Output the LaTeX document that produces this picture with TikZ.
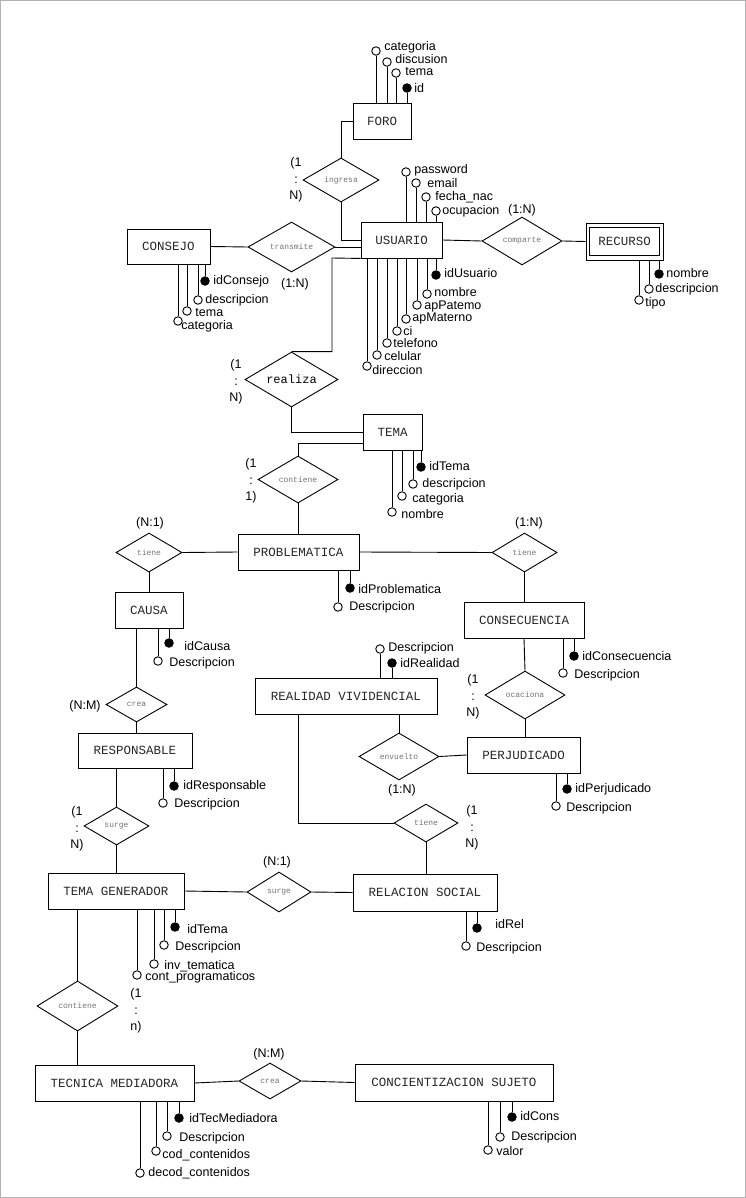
\documentclass[tikz,border=0pt]{standalone}
\usepackage{fontspec}
\setmainfont{Liberation Sans}
\newfontfamily\monof{Liberation Mono}
\usetikzlibrary{shapes.geometric}
\newcommand{\entfont}{\monof\fontsize{12.5}{14}\selectfont}
\newcommand{\relfont}{\monof\fontsize{8}{9}\selectfont}
\newcommand{\attfont}{\fontsize{12.5}{14}\selectfont}
\newcommand{\cardfont}{\fontsize{12.5}{16.5}\selectfont}
% attribute below an entity
\newcommand{\myatB}[8]{%
  \node[#5] (#1) at (#2,#3) {};
  \draw (#1.north) -- (#1.north |- #4.south);
  \node[albl] (#1l) at (#6,#7) {#8};}
% attribute above an entity
\newcommand{\myatT}[8]{%
  \node[#5] (#1) at (#2,#3) {};
  \draw (#1.south) -- (#1.south |- #4.north);
  \node[albl] (#1l) at (#6,#7) {#8};}
\begin{document}
\begin{tikzpicture}[x=1pt,y=-1pt,line width=0.9pt,
  ent/.style={draw, rectangle, inner sep=0pt, font=\entfont, text=black!85},
  rel/.style={draw, diamond, aspect=2, inner sep=0pt, font=\relfont, text=black!55},
  att/.style={draw, circle, fill=white, minimum size=8.5pt, inner sep=0pt},
  key/.style={att, fill=black},
  albl/.style={anchor=west, inner sep=0pt, font=\attfont},
  card/.style={font=\cardfont, align=center, inner sep=0pt}]
\useasboundingbox (0,0) rectangle (746,1198);
\draw[gray!60, line width=0.8pt] (0.5,0.5) rectangle (745.5,1197.5);

% ---------------- entities
\node[ent, minimum width=58pt, minimum height=36pt] (FORO) at (382,121) {FORO};
\node[ent, minimum width=81pt, minimum height=36pt] (USUARIO) at (401.5,240) {USUARIO};
\node[ent, minimum width=83pt, minimum height=35pt] (CONSEJO) at (168.5,246.5) {CONSEJO};
\node[ent, minimum width=77pt, minimum height=37pt] (RECURSO) at (624.5,241.5) {RECURSO};
\draw ([shift={(4pt,5pt)}]RECURSO.south west) rectangle ([shift={(-4pt,-5pt)}]RECURSO.north east);
\node[ent, minimum width=59pt, minimum height=36pt] (TEMA) at (392.5,432) {TEMA};
\node[ent, minimum width=121pt, minimum height=36pt] (PROB) at (298.5,552) {PROBLEMATICA};
\node[ent, minimum width=68pt, minimum height=36pt] (CAUSA) at (149,610) {CAUSA};
\node[ent, minimum width=120pt, minimum height=36pt] (CONS) at (524,620) {CONSECUENCIA};
\node[ent, minimum width=182pt, minimum height=36pt] (REAL) at (346,696) {REALIDAD VIVIDENCIAL};
\node[ent, minimum width=113pt, minimum height=36pt] (PERJ) at (523.5,755) {PERJUDICADO};
\node[ent, minimum width=114pt, minimum height=35pt] (RESP) at (135,750.5) {RESPONSABLE};
\node[ent, minimum width=136pt, minimum height=36pt] (TG) at (116,891) {TEMA GENERADOR};
\node[ent, minimum width=144pt, minimum height=37pt] (RS) at (425,892.5) {RELACION SOCIAL};
\node[ent, minimum width=159pt, minimum height=36pt] (TM) at (114.5,1083) {TECNICA MEDIADORA};
\node[ent, minimum width=198pt, minimum height=37pt] (CS) at (454,1082.5) {CONCIENTIZACION SUJETO};

% ---------------- relationships
\node[rel, minimum width=76pt, minimum height=44pt] (ingresa) at (341,180) {ingresa};
\node[rel, minimum width=87pt, minimum height=50pt] (transmite) at (291.5,247) {transmite};
\node[rel, minimum width=80pt, minimum height=48pt] (comparte) at (522,241) {comparte};
\node[rel, minimum width=93pt, minimum height=55pt, font=\monof\fontsize{12}{13}\selectfont, text=black] (realiza) at (291.5,379.5) {realiza};
\node[rel, minimum width=80pt, minimum height=47pt] (contiene) at (298,479.5) {contiene};
\node[rel, minimum width=66pt, minimum height=39pt] (tieneL) at (149,552.5) {tiene};
\node[rel, minimum width=65pt, minimum height=39pt] (tieneR) at (524.5,552.5) {tiene};
\node[rel, minimum width=61pt, minimum height=35pt] (crea) at (136.5,704.5) {crea};
\node[rel, minimum width=80pt, minimum height=48pt] (ocaciona) at (525,695) {ocaciona};
\node[rel, minimum width=80pt, minimum height=47pt] (envuelto) at (399,756.5) {envuelto};
\node[rel, minimum width=65pt, minimum height=38pt] (surgeL) at (116.5,826) {surge};
\node[rel, minimum width=64pt, minimum height=38pt] (tieneB) at (426,823) {tiene};
\node[rel, minimum width=64pt, minimum height=40pt] (surgeR) at (279,892) {surge};
\node[rel, minimum width=81pt, minimum height=50pt] (contieneB) at (77.5,1006) {contiene};
\node[rel, minimum width=62pt, minimum height=36pt] (crea2) at (270,1081) {crea};

% ---------------- connectors
\draw (FORO.west) -| (ingresa.north);
\draw (ingresa.south) |- (USUARIO.west);
\draw (CONSEJO.east) -- (transmite.west);
\draw (transmite.east) -- (transmite.east -| USUARIO.west);
\draw (USUARIO.east) -- (comparte.west);
\draw (comparte.east) -- (RECURSO.west);
\coordinate (r1) at (332,258);
\draw (USUARIO.south west) -- (r1) |- (realiza.north);
\draw (realiza.south) |- (TEMA.west);
\draw ([yshift=-11pt]TEMA.west) -| (contiene.north);
\draw (contiene.south) -- (contiene.south |- PROB.north);
\draw (PROB.west) -- (tieneL.east);
\draw (tieneL.south) -- (tieneL.south |- CAUSA.north);
\draw (PROB.east) -- (tieneR.west);
\draw (tieneR.south) -- (tieneR.south |- CONS.north);
\draw (crea.north) -- (crea.north |- CAUSA.south);
\draw (crea.south) -- (crea.south |- RESP.north);
\draw (surgeL.north) -- (surgeL.north |- RESP.south);
\draw (surgeL.south) -- (surgeL.south |- TG.north);
\draw (TG.east) -- (surgeR.west);
\draw (surgeR.east) -- (RS.west);
\draw (tieneB.south) -- (tieneB.south |- RS.north);
\coordinate (r2) at (298,714);
\draw (tieneB.west) -| (r2);
\draw (envuelto.north) -- (envuelto.north |- REAL.south);
\draw (envuelto.east) -- (PERJ.west);
\draw (CONS.south) -- (ocaciona.north);
\draw (ocaciona.south) -- (ocaciona.south |- PERJ.north);
\draw (contieneB.north) -- (contieneB.north |- TG.south);
\draw (contieneB.south) -- (contieneB.south |- TM.north);
\draw (TM.east) -- (crea2.west);
\draw (crea2.east) -- (CS.west);

% ---------------- cardinalities
\node[card] (c1) at (296,180) {(1\\:\\N)};
\node[card] (c2) at (295,284) {(1:N)};
\node[card] (c3) at (522,210) {(1:N)};
\node[card] (c4) at (236,382) {(1\\:\\N)};
\node[card] (c5) at (251,481) {(1\\:\\1)};
\node[card] (c6) at (150,523) {(N:1)};
\node[card] (c7) at (529,523) {(1:N)};
\node[card] (c8) at (85,706) {(N:M)};
\node[card] (c9) at (473,697) {(1\\:\\N)};
\node[card] (c10) at (402,790) {(1:N)};
\node[card] (c11) at (77,829) {(1\\:\\N)};
\node[card] (c12) at (472,828) {(1\\:\\N)};
\node[card] (c13) at (277,862) {(N:1)};
\node[card] (c14) at (136,1011) {(1\\:\\n)};
\node[card] (c15) at (269,1054) {(N:M)};

% ---------------- attributes
% FORO
\myatT{f1}{376}{51}{FORO}{att}{384}{47}{categoria}
\myatT{f2}{387}{62}{FORO}{att}{395}{59}{discusion}
\myatT{f3}{396}{73}{FORO}{att}{405}{72}{tema}
\myatT{f4}{407}{88}{FORO}{key}{414}{88}{id}
% USUARIO
\myatT{u1}{406}{172}{USUARIO}{att}{414}{170}{password}
\myatT{u2}{416}{183}{USUARIO}{att}{427}{183}{email}
\myatT{u3}{426}{197}{USUARIO}{att}{435}{197}{fecha\_nac}
\myatT{u4}{436}{211}{USUARIO}{att}{442}{211}{ocupacion}
\myatB{u5}{436}{275}{USUARIO}{key}{444}{273}{idUsuario}
\myatB{u6}{427}{294}{USUARIO}{att}{434}{292}{nombre}
\myatB{u7}{417}{305}{USUARIO}{att}{424}{306}{apPatemo}
\myatB{u8}{406}{319}{USUARIO}{att}{412}{318}{apMaterno}
\myatB{u9}{397}{331}{USUARIO}{att}{403}{331}{ci}
\myatB{u10}{387}{343}{USUARIO}{att}{393}{343}{telefono}
\myatB{u11}{377}{355}{USUARIO}{att}{384}{356}{celular}
\myatB{u12}{367}{366}{USUARIO}{att}{372}{370}{direccion}
% CONSEJO
\myatB{k1}{205}{281}{CONSEJO}{key}{213}{281}{idConsejo}
\myatB{k2}{198}{300}{CONSEJO}{att}{205}{300}{descripcion}
\myatB{k3}{187}{311}{CONSEJO}{att}{195}{313}{tema}
\myatB{k4}{178}{321}{CONSEJO}{att}{181}{326}{categoria}
% RECURSO
\myatB{re1}{659}{274}{RECURSO}{key}{666}{273}{nombre}
\myatB{re2}{649}{289}{RECURSO}{att}{655}{289}{descripcion}
\myatB{re3}{639}{300}{RECURSO}{att}{645}{303}{tipo}
% TEMA
\myatB{t1}{421}{467}{TEMA}{key}{429}{466}{idTema}
\myatB{t2}{413}{484}{TEMA}{att}{422}{484}{descripcion}
\myatB{t3}{402}{496}{TEMA}{att}{412}{499}{categoria}
\myatB{t4}{392}{512}{TEMA}{att}{401}{514}{nombre}
% PROBLEMATICA
\myatB{p1}{350}{588}{PROB}{key}{358}{589}{idProblematica}
\myatB{p2}{338}{607}{PROB}{att}{349}{607}{Descripcion}
% CAUSA
\myatB{ca1}{169}{643}{CAUSA}{key}{184}{646}{idCausa}
\myatB{ca2}{158}{661}{CAUSA}{att}{169}{663}{Descripcion}
% CONSECUENCIA
\myatB{co1}{574}{656}{CONS}{key}{582}{656}{idConsecuencia}
\myatB{co2}{563}{673}{CONS}{att}{574}{675}{Descripcion}
% REALIDAD VIVIDENCIAL
\myatT{rv1}{380}{649}{REAL}{att}{388}{648}{Descripcion}
\myatT{rv2}{392}{663}{REAL}{key}{400}{663}{idRealidad}
% PERJUDICADO
\myatB{pe1}{567}{789}{PERJ}{key}{575}{789}{idPerjudicado}
\myatB{pe2}{556}{806}{PERJ}{att}{566}{808}{Descripcion}
% RESPONSABLE
\myatB{rp1}{174}{786}{RESP}{key}{183}{786}{idResponsable}
\myatB{rp2}{163}{803}{RESP}{att}{174}{804}{Descripcion}
% TEMA GENERADOR
\myatB{g1}{175}{927}{TG}{key}{187}{929}{idTema}
\myatB{g2}{164}{945}{TG}{att}{175}{947}{Descripcion}
\myatB{g3}{154}{964}{TG}{att}{164}{966}{inv\_tematica}
\myatB{g4}{137}{975}{TG}{att}{145}{977}{cont\_programaticos}
% RELACION SOCIAL
\myatB{s1}{477}{928}{RS}{key}{495}{924}{idRel}
\myatB{s2}{466}{946}{RS}{att}{476}{948}{Descripcion}
% TECNICA MEDIADORA
\myatB{m1}{179}{1118}{TM}{key}{189}{1118}{idTecMediadora}
\myatB{m2}{167}{1136}{TM}{att}{179}{1138}{Descripcion}
\myatB{m3}{156}{1151}{TM}{att}{162}{1155}{cod\_contenidos}
\myatB{m4}{140}{1173}{TM}{att}{148}{1173}{decod\_contenidos}
% CONCIENTIZACION SUJETO
\myatB{cs1}{512}{1117}{CS}{key}{520}{1116}{idCons}
\myatB{cs2}{500}{1137}{CS}{att}{511}{1137}{Descripcion}
\myatB{cs3}{488}{1150}{CS}{att}{496}{1151}{valor}
\end{tikzpicture}
\end{document}
